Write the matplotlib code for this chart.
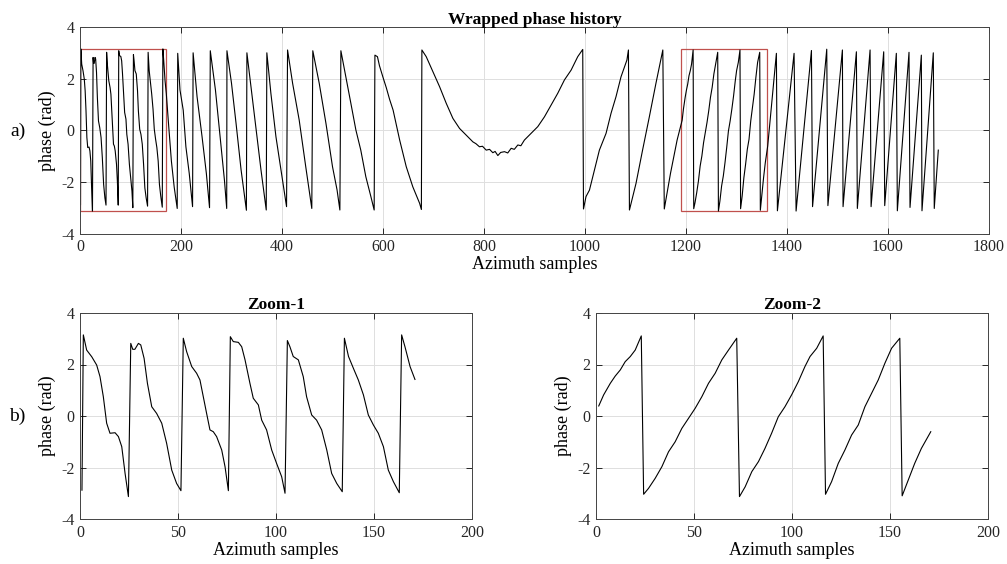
import numpy as np
import matplotlib.pyplot as plt
from matplotlib.patches import Rectangle

plt.rcParams['font.family'] = ['Liberation Serif', 'DejaVu Serif']
plt.rcParams['axes.unicode_minus'] = False

# ---- Zoom-1 (samples 0-170 of the record)
z1_x = [1, 1.7, 3.4, 6, 8.5, 10.2, 11.9, 13.6, 15.3, 17.9, 19.6, 21.3, 23, 24.7,
        25.9, 26.9, 28, 29.8, 31, 32.7, 34.4, 36.6, 39.1, 41.7, 44.2, 46.8, 49.3, 51.5,
        52.7, 54.4, 57, 59.5, 61.2, 62.9, 64.6, 66.3, 68, 69.7, 72.3, 74, 75.7,
        76.7, 78.2, 80.8, 82.5, 84.2, 86.7, 88.4, 91, 92.7, 95.2, 97.8, 100.3, 102.9, 104.6,
        105.8, 107.1, 108.8, 111.4, 113.9, 115.6, 118.2, 120.7, 123.3, 125.9, 128.4, 131, 133.8,
        134.9, 137, 139.5, 142, 144.6, 147.1, 149.7, 152.2, 154.8, 157.3, 159.9, 162.9,
        164.1, 165.8, 168.4, 170.9]
z1_y = [-2.88, 3.15, 2.56, 2.3, 1.98, 1.53, 0.75, -0.28, -0.67, -0.65, -0.8, -1.19, -2.23, -3.13,
        2.82, 2.59, 2.59, 2.82, 2.76, 2.24, 1.27, 0.36, 0.10, -0.28, -1.06, -2.1, -2.62, -2.9,
        3.02, 2.5, 1.92, 1.66, 1.4, 0.75, 0.1, -0.54, -0.61, -0.8, -1.32, -1.97, -2.9,
        3.08, 2.89, 2.86, 2.69, 2.18, 1.27, 0.69, 0.43, -0.16, -0.54, -1.32, -1.84, -2.36, -3.0,
        2.93, 2.69, 2.31, 2.18, 1.53, 0.75, 0.04, -0.16, -0.54, -1.32, -2.23, -2.62, -2.94,
        3.02, 2.31, 1.85, 1.4, 0.82, 0.04, -0.35, -0.67, -1.19, -2.1, -2.55, -2.98,
        3.15, 2.69, 1.92, 1.42]

# ---- Zoom-2 (samples 1191-1361 of the record)
z2_x = [1.4, 3.9, 7.3, 9.8, 12.4, 14.9, 17.5, 20, 23.1,
        24.3, 26.8, 30.2, 33.6, 37, 40.4, 43.8, 47.2, 50.6, 54, 57.4, 60.8, 64.2, 67.6, 71.8,
        73.2, 76.1, 79.5, 82.9, 86.2, 89.6, 93, 96.4, 99.8, 103.2, 106.6, 109.2, 112.6, 115.9,
        117.1, 120.2, 123.6, 127, 130.4, 133.8, 137.2, 140.6, 144, 147.4, 150.8, 155,
        156.2, 159.3, 162.6, 166, 170.8]
z2_y = [0.39, 0.82, 1.27, 1.55, 1.79, 2.11, 2.31, 2.56, 3.11,
        -3.04, -2.81, -2.42, -1.97, -1.39, -1.0, -0.48, -0.09, 0.3, 0.75, 1.27, 1.66, 2.18, 2.56, 3.02,
        -3.13, -2.75, -2.16, -1.77, -1.26, -0.67, -0.03, 0.36, 0.82, 1.33, 1.92, 2.31, 2.63, 3.11,
        -3.04, -2.55, -1.84, -1.32, -0.74, -0.35, 0.36, 0.88, 1.4, 2.05, 2.63, 3.02,
        -3.1, -2.49, -1.84, -1.26, -0.61]
z2_start = 1191

# ---- rest of the full record (between and after the zooms)
mid_x = [175.5, 181, 186.5, 192.5,
         193.5, 198, 204.4, 209.7, 216.3, 222.9,
         224, 231.8, 241.7, 250.2, 256.5,
         258, 268.2, 278, 286, 290.5,
         291, 300, 309, 319, 329.5,
         330.5, 338.6, 349.8, 358.4, 368.8,
         370, 378, 388, 401, 409,
         411, 421, 434, 447, 459,
         461, 473.7, 487, 500, 509, 514.6,
         516.6, 526.5, 536.4, 546.3, 556, 566, 576, 582.5,
         584, 589, 593, 600, 606.5, 613, 620, 633, 646, 659, 672.5, 676,
         677, 685.6, 698.8, 712, 725.3, 738.4, 751.6, 764.8, 778, 784, 791, 797, 804.4, 811,
         817.5, 822, 827.4, 833, 840.6, 847, 853.8, 860, 867, 873, 880, 893.4, 906.5,
         919.7, 933, 946, 959.3, 972.5, 985.6, 995.5,
         997, 1002, 1008.8, 1018.6, 1028.5, 1041.7, 1051.6, 1061.4, 1071.3, 1083, 1086,
         1088, 1101, 1114, 1127.4, 1140.5, 1154.1,
         1157, 1169.3, 1182.4]
mid_y = [0.2, -1.2, -2.2, -3.03,
         2.98, 1.56, 0.78, -0.64, -1.67, -2.96,
         3.0, 1.3, -0.25, -1.67, -3.0,
         3.08, 1.56, -0.38, -1.93, -3.03,
         3.08, 1.82, 0.27, -1.54, -3.1,
         3.0, 1.69, -0.12, -1.54, -3.09,
         3.0, 1.43, -0.25, -1.93, -2.96,
         3.11, 1.82, 0.4, -1.41, -3.03,
         3.08, 1.82, 0.27, -1.41, -2.31, -3.09,
         3.08, 2.07, 1.04, 0.01, -0.77, -1.8, -2.57, -3.09,
         2.91, 2.85, 2.5, 2.05, 1.65, 1.2, 0.78, -0.38, -1.41, -2.19, -2.83, -3.07,
         3.11, 2.85, 2.27, 1.69, 1.04, 0.46, 0.07, -0.19, -0.45, -0.52, -0.64, -0.62, -0.77, -0.74,
         -0.87, -0.82, -0.98, -0.86, -0.83, -0.88, -0.70, -0.74, -0.57, -0.60, -0.38, -0.12, 0.14,
         0.52, 0.98, 1.43, 1.95, 2.33, 2.85, 3.13,
         -3.05, -2.57, -2.32, -1.54, -0.77, -0.12, 0.66, 1.3, 2.07, 2.72, 3.11,
         -3.09, -2.06, -0.77, 0.52, 1.82, 3.11,
         -3.05, -1.67, -0.38]

tail_x = [1379, 1381, 1414, 1418, 1448.4, 1450.6, 1478.7, 1481, 1509.7, 1511,
          1537.4, 1539.3, 1564.5, 1566.5, 1591.5, 1593.5, 1616.5, 1618.5,
          1641.6, 1643.6, 1666, 1667.3, 1689.7, 1691.6, 1699.6]
tail_y = [2.98, -3.12, 2.98, -3.13, 3.09, -2.96, 3.14, -2.92, 3.11, -2.96,
          3.04, -3.03, 3.11, -2.96, 3.04, -2.92, 2.98, -3.12,
          3.02, -2.99, 2.91, -3.12, 3.0, -3.03, -0.77]

zoom_len = 170

full_x = np.concatenate([z1_x, mid_x, np.array(z2_x) + z2_start, tail_x])
full_y = np.concatenate([z1_y, mid_y, z2_y, tail_y])

W, H = 1007, 564
fig = plt.figure(figsize=(W / 100, H / 100), dpi=100)

ax_top = fig.add_axes([80 / W, 1 - 233.5 / H, 909 / W, 206.5 / H])
ax_z1 = fig.add_axes([80 / W, 1 - 519 / H, 392 / W, 206 / H])
ax_z2 = fig.add_axes([596 / W, 1 - 519 / H, 392 / W, 206 / H])


def style(ax, xmax, xstep):
    ax.set_xlim(0, xmax)
    ax.set_ylim(-4, 4)
    ax.set_xticks(np.arange(0, xmax + 1, xstep))
    ax.set_yticks([-4, -2, 0, 2, 4])
    ax.grid(True, color='#dedede', lw=0.7)
    ax.set_axisbelow(True)
    ax.tick_params(direction='in', top=True, right=True, length=4, width=0.7,
                   labelsize=11.5, colors='#262626', pad=4)
    for s in ax.spines.values():
        s.set_color('#444444')
        s.set_linewidth(0.7)
    ax.set_xlabel('Azimuth samples', fontsize=13, labelpad=1)
    ax.set_ylabel('phase (rad)', fontsize=13, labelpad=4)


ax_top.plot(full_x, full_y, color='black', lw=0.8)
style(ax_top, 1800, 200)
ax_top.set_title('Wrapped phase history', fontsize=12.5, fontweight='bold', pad=2)
for x0 in [0, z2_start]:
    ax_top.add_patch(Rectangle((x0, -np.pi), zoom_len, 2 * np.pi, fill=False,
                               edgecolor='#c0504d', lw=0.9))

ax_z1.plot(z1_x, z1_y, color='black', lw=0.8)
style(ax_z1, 200, 50)
ax_z1.set_title('Zoom-1', fontsize=12.5, fontweight='bold', pad=3)

ax_z2.plot(z2_x, z2_y, color='black', lw=0.8)
style(ax_z2, 200, 50)
ax_z2.set_title('Zoom-2', fontsize=12.5, fontweight='bold', pad=3)

fig.text(18 / W, 1 - 131 / H, 'a)', fontsize=14, ha='center', va='center')
fig.text(17 / W, 1 - 416 / H, 'b)', fontsize=14, ha='center', va='center')

fig.savefig('out.png', dpi=100)
